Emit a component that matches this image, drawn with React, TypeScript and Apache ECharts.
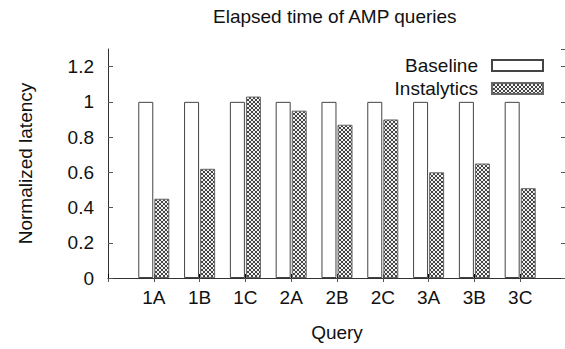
import React, { useEffect, useRef } from "react";
import * as echarts from "echarts";

const categories = ["1A", "1B", "1C", "2A", "2B", "2C", "3A", "3B", "3C"];
const baseline = [1, 1, 1, 1, 1, 1, 1, 1, 1];
const instalytics = [0.45, 0.62, 1.03, 0.95, 0.87, 0.9, 0.6, 0.65, 0.51];
const seriesNames = ["Baseline", "Instalytics"];
const titleText = "Elapsed time of AMP queries";
const xName = "Query";
const yName = "Normalized latency";

const FONT = "'Liberation Sans', Arial, Helvetica, sans-serif";
const FS = 19;

function makeHatch() {
  const s = 4;
  const c = document.createElement("canvas");
  c.width = s;
  c.height = s;
  const ctx = c.getContext("2d")!;
  ctx.fillStyle = "#f2f2f2";
  ctx.fillRect(0, 0, s, s);
  ctx.strokeStyle = "#444444";
  ctx.lineWidth = 1;
  ctx.beginPath();
  ctx.moveTo(0, 0);
  ctx.lineTo(s, s);
  ctx.moveTo(s, 0);
  ctx.lineTo(0, s);
  ctx.stroke();
  return c;
}

export default function App() {
  const ref = useRef<HTMLDivElement>(null);
  useEffect(() => {
    if (!ref.current) return;
    const chart = echarts.init(ref.current, null, { renderer: "svg" });
    const hatch = makeHatch();
    const xData = ["", ...categories, ""];
    const pad = (a: number[]) => ["-", ...a, "-"];
    const axisColor = "#333";
    const txt = { fontFamily: FONT, fontSize: FS, color: "#111" };
    chart.setOption({
      animation: false,
      backgroundColor: "#fff",
      title: {
        text: titleText,
        left: 208,
        top: 2,
        textStyle: { ...txt, fontWeight: "normal" },
      },
      legend: {
        data: seriesNames,
        orient: "vertical",
        align: "right",
        right: 21,
        top: 51,
        itemWidth: 51,
        itemHeight: 11,
        itemGap: 4,
        icon: "rect",
        textStyle: { ...txt, padding: [0, 9, 0, 0] },
      },
      grid: { left: 108, right: 4, top: 49, bottom: 71, containLabel: false },
      xAxis: [
        {
          type: "category",
          data: xData,
          boundaryGap: false,
          name: xName,
          nameLocation: "middle",
          nameGap: 45,
          nameTextStyle: txt,
          axisLine: { lineStyle: { color: "#888", width: 1 } },
          axisTick: { inside: true, length: 4, lineStyle: { color: "#000" } },
          axisLabel: { ...txt, margin: 10, interval: 0 },
          splitLine: { show: false },
        },
        {
          type: "category",
          data: xData,
          boundaryGap: false,
          position: "top",
          axisLine: { lineStyle: { color: axisColor, width: 1 } },
          axisTick: { inside: true, length: 4, lineStyle: { color: "#555" } },
          axisLabel: { show: false },
          splitLine: { show: false },
        },
      ],
      yAxis: [
        {
          type: "value",
          min: 0,
          max: 1.3,
          interval: 0.2,
          name: yName,
          nameLocation: "middle",
          nameGap: 73,
          nameTextStyle: txt,
          axisLine: { show: true, lineStyle: { color: axisColor, width: 1 } },
          axisTick: { show: true, inside: true, length: 5, lineStyle: { color: "#555" } },
          axisLabel: { ...txt, margin: 14, showMaxLabel: false },
          splitLine: { show: false },
        },
        {
          type: "value",
          min: 0,
          max: 1.3,
          interval: 0.2,
          position: "right",
          axisLine: { show: true, lineStyle: { color: axisColor, width: 1 } },
          axisTick: { show: true, inside: true, length: 5, lineStyle: { color: "#555" } },
          axisLabel: { show: false },
          splitLine: { show: false },
        },
      ],
      series: [
        {
          name: seriesNames[0],
          type: "bar",
          data: pad(baseline),
          barWidth: 15,
          barGap: "7%",
          itemStyle: { color: "#ffffff", borderColor: "#444", borderWidth: 1 },
        },
        {
          name: seriesNames[1],
          type: "bar",
          data: pad(instalytics),
          barWidth: 15,
          barGap: "7%",
          itemStyle: {
            color: { image: hatch, repeat: "repeat", imageWidth: 4, imageHeight: 4 },
            borderColor: "#666",
            borderWidth: 1,
          },
        },
      ],
    });
    return () => chart.dispose();
  }, []);
  return (
    <div
      ref={ref}
      style={{ position: "fixed", left: 0, top: 0, width: 570, height: 349 }}
    />
  );
}
